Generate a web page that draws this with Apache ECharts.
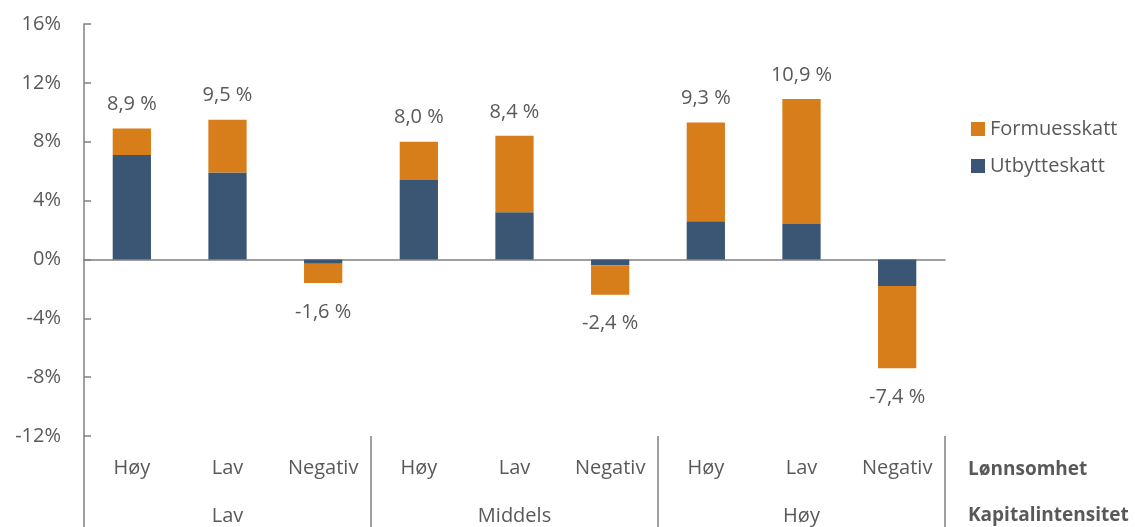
<!DOCTYPE html>
<html>
<head>
<meta charset="utf-8">
<script src="https://cdn.jsdelivr.net/npm/echarts@6/dist/echarts.min.js"></script>
<style>
  html, body { margin: 0; padding: 0; background: #fff; }
  #chart { width: 1135px; height: 527px; }
</style>
</head>
<body>
<div id="chart"></div>
<script>
  // lønnsomhet (nivå 1) og kapitalintensitet (nivå 2)
  const lonnsomhet = ['Høy', 'Lav', 'Negativ', 'Høy', 'Lav', 'Negativ', 'Høy', 'Lav', 'Negativ']
  const kapital = ['Lav', 'Middels', 'Høy']

  const utbytteskatt = [7.1, 5.9, -0.3, 5.4, 3.2, -0.4, 2.6, 2.4, -1.8]
  const formuesskatt = [1.8, 3.6, -1.3, 2.6, 5.2, -2.0, 6.7, 8.5, -5.6]
  const totalt = [8.9, 9.5, -1.6, 8.0, 8.4, -2.4, 9.3, 10.9, -7.4]

  const textColor = '#595959'
  const lineColor = '#808080'
  const font = '"Open Sans", "Noto Sans", sans-serif'

  const chart = echarts.init(document.getElementById('chart'))

  const formueData = formuesskatt.map((v, i) => ({
    value: v,
    label: { distance: totalt[i] >= 0 ? 14 : 19 }
  }))

  chart.setOption({
    animation: false,
    textStyle: { fontFamily: font },
    grid: { left: 84, right: 190, top: 24, bottom: 91 },
    legend: {
      orient: 'vertical',
      left: 966,
      top: 114,
      itemWidth: 14,
      itemHeight: 14,
      itemGap: 17,
      icon: 'rect',
      data: ['Formuesskatt', 'Utbytteskatt'],
      textStyle: { color: textColor, fontSize: 20, fontFamily: font }
    },
    xAxis: [{
      type: 'category',
      data: lonnsomhet,
      axisLine: { onZero: true, lineStyle: { color: lineColor, width: 1.5 } },
      axisTick: { show: false },
      axisLabel: { show: false }
    }, {
      type: 'category',
      data: lonnsomhet,
      position: 'bottom',
      axisLine: { show: false },
      axisTick: { show: false },
      axisLabel: { color: textColor, fontSize: 20, margin: 22, interval: 0 }
    }, {
      type: 'category',
      data: kapital,
      position: 'bottom',
      axisLine: { show: false },
      axisTick: { show: true, length: 91, lineStyle: { color: lineColor, width: 1.5 } },
      axisLabel: { color: textColor, fontSize: 20, margin: 70, interval: 0 }
    }],
    yAxis: {
      type: 'value',
      min: -12,
      max: 16,
      interval: 4,
      axisLine: { show: true, lineStyle: { color: lineColor, width: 1.5 } },
      axisTick: { show: true, inside: true, length: 7, lineStyle: { color: lineColor, width: 1.5 } },
      splitLine: { show: false },
      axisLabel: { color: textColor, fontSize: 20, margin: 23, formatter: '{value}%' }
    },
    series: [{
      name: 'Utbytteskatt',
      type: 'bar',
      stack: 'skatt',
      barWidth: '40%',
      itemStyle: { color: '#3A5674' },
      data: utbytteskatt
    }, {
      name: 'Formuesskatt',
      type: 'bar',
      stack: 'skatt',
      barWidth: '40%',
      itemStyle: { color: '#D77E1A' },
      label: {
        show: true,
        position: 'outside',
        color: textColor,
        fontSize: 20,
        formatter: p => totalt[p.dataIndex].toFixed(1).replace('.', ',') + ' %'
      },
      data: formueData
    }],
    graphic: [{
      type: 'text',
      left: 968,
      top: 460,
      style: { text: 'Lønnsomhet', fill: textColor, font: 'bold 19px ' + font }
    }, {
      type: 'text',
      left: 968,
      top: 506,
      style: { text: 'Kapitalintensitet', fill: textColor, font: 'bold 19px ' + font }
    }]
  })
</script>
</body>
</html>
